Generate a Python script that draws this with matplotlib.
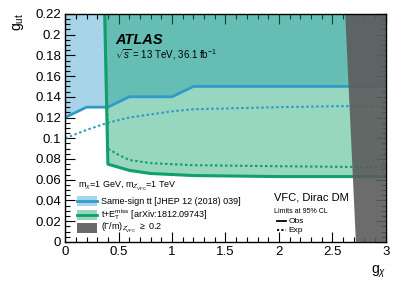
import numpy as np
import matplotlib.pyplot as plt
from matplotlib.patches import Rectangle
from matplotlib.lines import Line2D
from matplotlib.ticker import MultipleLocator

plt.rcParams['font.family'] = ['Liberation Sans', 'DejaVu Sans']
plt.rcParams['mathtext.fontset'] = 'custom'
plt.rcParams['mathtext.rm'] = 'Liberation Sans'
plt.rcParams['mathtext.it'] = 'Liberation Sans:italic'

# same-sign tt limits
ss_obs_x = [0, 0.2, 0.4, 0.6, 1.0, 1.2, 3.0]
ss_obs_y = [0.12, 0.13, 0.13, 0.14, 0.14, 0.15, 0.15]
ss_exp_x = [0, 0.2, 0.4, 0.6, 0.8, 1.0, 1.2, 1.6, 2.0, 2.6, 3.0]
ss_exp_y = [0.100, 0.108, 0.115, 0.120, 0.123, 0.126, 0.128, 0.129, 0.130, 0.131, 0.131]

# t+MET limits
met_obs_x = [0.37, 0.40, 0.6, 0.8, 1.2, 2.0, 3.0]
met_obs_y = [0.22, 0.075, 0.069, 0.066, 0.064, 0.063, 0.063]
met_exp_x = [0.375, 0.40, 0.5, 0.6, 0.8, 1.2, 2.0, 3.0]
met_exp_y = [0.22, 0.090, 0.084, 0.079, 0.076, 0.074, 0.073, 0.072]

# width/mass > 0.2 region boundary
wid_x = [2.62, 2.72]
wid_y = [0.22, 0.0]

blue = '#2f9bc9'
blue_fill = '#a8d4ea'
green = '#0fa06b'
gray = '#5c5c5c'

fig = plt.figure(figsize=(4.07, 2.89), dpi=100)
ax = fig.add_axes([0.160, 0.163, 0.788, 0.789])

top = 0.22
ax.fill_between(ss_obs_x, ss_obs_y, top, color=blue_fill, lw=0, zorder=1)
# green excluded region: from observed curve up to the top
ax.fill(met_obs_x + [3.0], met_obs_y + [top], color=green, alpha=0.43, lw=0, zorder=2)

ax.plot(ss_obs_x, ss_obs_y, color=blue, lw=2, zorder=3)
ax.plot(ss_exp_x, ss_exp_y, color=blue, lw=1.5, ls=(0, (1.2, 1.2)), zorder=3)
ax.plot(met_obs_x, met_obs_y, color=green, lw=2.2, zorder=3)
ax.plot(met_exp_x, met_exp_y, color=green, lw=1.5, ls=(0, (1.2, 1.2)), zorder=3)

ax.fill([wid_x[0], wid_x[1], 3.0, 3.0], [wid_y[0], wid_y[1], 0, top], color=gray, alpha=0.9, lw=0, zorder=4)

ax.set_xlim(0, 3)
ax.set_ylim(0, 0.22)
ax.xaxis.set_minor_locator(MultipleLocator(0.1))
ax.yaxis.set_minor_locator(MultipleLocator(0.005))
ax.set_xticks([0, 0.5, 1, 1.5, 2, 2.5, 3])
ax.set_xticklabels(['0', '0.5', '1', '1.5', '2', '2.5', '3'])
yt = np.arange(0, 0.2201, 0.02)
ax.set_yticks(yt)
ax.set_yticklabels(['0'] + ['%g' % v for v in yt[1:]])
ax.tick_params(which='both', direction='in', top=True, right=True, labelsize=9.5, width=0.8, pad=3)
ax.tick_params(which='major', length=7)
ax.tick_params(which='minor', length=3.5)
for s in ax.spines.values():
    s.set_linewidth(1)
    s.set_zorder(6)

fig.text(0.045, 0.955, r'g$_{\mathrm{ut}}$', rotation=90, ha='center', va='top', fontsize=10)
fig.text(0.948, 0.03, r'g$_{\chi}$', ha='right', va='bottom', fontsize=10)

ax.text(0.157, 0.885, 'ATLAS', transform=ax.transAxes, fontsize=10.5, fontweight='bold',
        style='italic', va='center', zorder=7)
ax.text(0.157, 0.82, r'$\sqrt{s}$ = 13 TeV, 36.1 fb$^{-1}$', transform=ax.transAxes,
        fontsize=7, va='center', zorder=7)

# legend
ax.text(0.04, 0.245, r'm$_{\chi}$=1 GeV, m$_{Z^{\prime}_{\mathrm{VFC}}}$=1 TeV', transform=ax.transAxes,
        fontsize=6.5, va='center', zorder=7)
rows = [0.178, 0.12, 0.06]
labels = ['Same-sign tt [JHEP 12 (2018) 039]',
          r't+E$_{\mathrm{T}}^{\mathrm{miss}}$ [arXiv:1812.09743]',
          r'($\Gamma$/m)$_{Z^{\prime}_{\mathrm{VFC}}}$ $\geq$ 0.2']
fills = [blue_fill, '#99d6c0', '#6a6a6a']
lines = [blue, green, None]
for r, lab, fc, lc in zip(rows, labels, fills, lines):
    ax.add_patch(Rectangle((0.037, r - 0.022), 0.062, 0.044, transform=ax.transAxes,
                           facecolor=fc, edgecolor='none', zorder=7))
    if lc:
        ax.add_line(Line2D([0.037, 0.099], [r, r], transform=ax.transAxes, color=lc, lw=2, zorder=8))
    ax.text(0.112, r, lab, transform=ax.transAxes, fontsize=6.5, va='center', zorder=7)

ax.text(0.65, 0.195, 'VFC, Dirac DM', transform=ax.transAxes, fontsize=8, va='center', zorder=7)
ax.text(0.65, 0.135, 'Limits at 95% CL', transform=ax.transAxes, fontsize=5, va='center', zorder=7)
ax.add_line(Line2D([0.66, 0.69], [0.09, 0.09], transform=ax.transAxes, color='black', lw=1.3, zorder=7))
ax.add_line(Line2D([0.66, 0.69], [0.05, 0.05], transform=ax.transAxes, color='black', lw=1.3,
                   ls=(0, (1.2, 1.2)), zorder=7))
ax.text(0.697, 0.09, 'Obs', transform=ax.transAxes, fontsize=6, va='center', zorder=7)
ax.text(0.697, 0.05, 'Exp', transform=ax.transAxes, fontsize=6, va='center', zorder=7)

fig.savefig('out.png', dpi=100)
